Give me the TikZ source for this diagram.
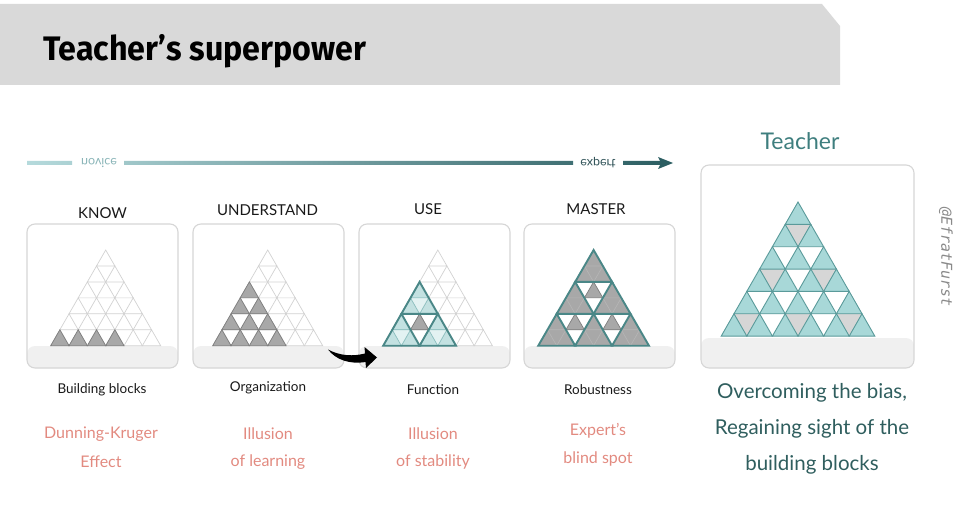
\documentclass[tikz,border=0pt]{standalone}
\usepackage{fontspec}
\setmainfont{Lato}
\newfontfamily\titlefont{Fira Sans}
\newfontfamily\handfont{DejaVu Sans Mono}
\definecolor{hdr}{HTML}{D9D9D9}
\definecolor{cardline}{HTML}{D6D6D6}
\definecolor{band}{HTML}{F0F0F0}
\definecolor{gridc}{HTML}{D2D2D2}
\definecolor{grayfill}{HTML}{A8A8A8}
\definecolor{grayedge}{HTML}{7E7E7E}
\definecolor{tealdark}{HTML}{4A8787}
\definecolor{tealthin}{HTML}{8DBFBF}
\definecolor{tealfill}{HTML}{C3E1E1}
\definecolor{teallight}{HTML}{E3F2F2}
\definecolor{minner}{HTML}{B6B6B6}
\definecolor{tchfill}{HTML}{A8D8D8}
\definecolor{tchedge}{HTML}{5A9A9A}
\definecolor{tchgray}{HTML}{D6D6D6}
\definecolor{salmon}{HTML}{E28A80}
\definecolor{capdark}{HTML}{2F5E5E}
\definecolor{tlabel}{HTML}{3E7E7E}
\definecolor{arrL}{HTML}{B5DADC}
\definecolor{arrR}{HTML}{2C5E62}
\definecolor{nov}{HTML}{8AB5B8}
\definecolor{exp}{HTML}{33555A}
\definecolor{hand}{HTML}{8A8A8A}
\newcommand\uptri[3][]{\path[#1] ({#3-1-(#2-1)/2},{#2-1}) -- ++(0.5,1) -- ++(-1,0) -- cycle;}
\newcommand\dntri[3][]{\path[#1] ({#3-1-(#2-1)/2},{#2-1}) -- ++(1,0) -- ++(-0.5,1) -- cycle;}
\newcommand\blocktri[3][]{\path[#1] ({#3-1-(#2-1)/2},{#2-1}) -- ++(1,2) -- ++(-2,0) -- cycle;}
\newcommand\fullgrid{\foreach \r in {1,...,6}{\foreach \k in {1,...,\r}{\uptri[draw=gridc,line width=0.7pt]{\r}{\k}}}}
\tikzset{
  cardbox/.style={draw=cardline,line width=1.1pt,fill=white,rounded corners=8pt,inner sep=0pt,
    path picture={\fill[band] (path picture bounding box.south west) rectangle ([yshift=#1]path picture bounding box.south east);}},
  stage/.style={font=\fontsize{15}{18}\selectfont,text=black!90},
  sub/.style={font=\fontsize{13.5}{16}\selectfont,text=black!90},
  bias/.style={font=\fontsize{16}{19}\selectfont,text=salmon},
  teachcap/.style={font=\fontsize{20.5}{24}\selectfont,text=capdark},
  gtri/.style={fill=grayfill,draw=grayedge,line width=0.7pt},
  line join=round
}
\begin{document}
\begin{tikzpicture}[x=1pt,y=-1pt]
\useasboundingbox (0,0) rectangle (960,521);
% header
\fill[hdr] (0,4) -- (822,4) -- (840,26) -- (840,85) -- (0,85) -- cycle;
\node[anchor=base west,inner sep=0pt,font=\titlefont\bfseries\fontsize{34}{38}\selectfont] (title) at (43,61) {\scalebox{0.947}[1]{Teacher’s superpower}};
% novice -> expert arrow
\begin{scope}
\clip (27,161) rectangle (72,165) (124,161) rectangle (573,165) (623,161) rectangle (664,165);
\shade[left color=arrL,right color=arrR] (27,161) rectangle (664,165);
\end{scope}
\fill[arrR] (658,157) -- (673,163) -- (658,169) -- (661,163) -- cycle;
\node[text=nov,font=\fontsize{12.5}{14}\selectfont,inner sep=0pt] (novice) at (99,163) {\scalebox{1}[-1]{novice}};
\node[text=exp,font=\fontsize{12.5}{14}\selectfont,inner sep=0pt] (expert) at (598,163) {\scalebox{1}[-1]{expert}};
% cards
\node[cardbox=22pt,minimum width=151pt,minimum height=144pt] (know) at (102.5,296) {};
\node[cardbox=22pt,minimum width=151pt,minimum height=144pt] (understand) at (268.5,296) {};
\node[cardbox=22pt,minimum width=151pt,minimum height=144pt] (use) at (434.5,296) {};
\node[cardbox=22pt,minimum width=151pt,minimum height=144pt] (master) at (599.5,296) {};
\node[cardbox=30pt,minimum width=213pt,minimum height=203pt] (teacher) at (807.5,266.5) {};
% stage labels
\node[stage] (lknow) at (102.5,213) {KNOW};
\node[stage] (lunderstand) at (267.5,210) {UNDERSTAND};
\node[stage] (luse) at (428,209.5) {USE};
\node[stage] (lmaster) at (596,209.5) {MASTER};
\node[font=\fontsize{23}{27}\selectfont,text=tlabel] (lteacher) at (800,141) {Teacher};
\node[font=\handfont\itshape\fontsize{15}{18}\selectfont,text=hand,rotate=-90] (sign) at (946,257) {@EfratFurst};
% KNOW pyramid
\begin{scope}[shift={(105.7,250)}]\begin{scope}[x=18.33pt,y=-15.95pt]
\fullgrid
\foreach \k in {1,...,4}{\uptri[gtri]{6}{\k}}
\end{scope}\end{scope}
% UNDERSTAND pyramid
\begin{scope}[shift={(267.7,250)}]\begin{scope}[x=18.33pt,y=-15.95pt]
\fullgrid
\foreach \r in {3,...,6}{\pgfmathtruncatemacro\m{\r-2}\foreach \k in {1,...,\m}{\uptri[gtri]{\r}{\k}}}
\end{scope}\end{scope}
% USE pyramid
\begin{scope}[shift={(437.8,250)}]\begin{scope}[x=18.2pt,y=-15.95pt]
\fullgrid
\foreach \r/\k in {3/1,5/1,5/3}{
  \pgfmathtruncatemacro\rn{\r+1}\pgfmathtruncatemacro\kn{\k+1}
  \uptri[fill=tealfill,draw=tealthin,line width=0.6pt]{\r}{\k}
  \uptri[fill=tealfill,draw=tealthin,line width=0.6pt]{\rn}{\k}
  \uptri[fill=tealfill,draw=tealthin,line width=0.6pt]{\rn}{\kn}
  \dntri[fill=teallight,draw=tealthin,line width=0.6pt]{\rn}{\k}
}
\uptri[gtri]{5}{2}
\foreach \r/\k in {3/1,5/1,5/3}{\blocktri[draw=tealdark,line width=1.9pt]{\r}{\k}}
\end{scope}\end{scope}
% MASTER pyramid
\begin{scope}[shift={(593.6,250)}]\begin{scope}[x=18.45pt,y=-15.95pt]
\foreach \r/\k in {1/1,3/1,3/3,5/1,5/3,5/5}{
  \pgfmathtruncatemacro\rn{\r+1}
  \blocktri[fill=grayfill]{\r}{\k}
  \dntri[draw=minner,line width=0.6pt]{\rn}{\k}
}
\foreach \r/\k in {3/2,5/2,5/4}{\uptri[gtri]{\r}{\k}}
\foreach \r/\k in {1/1,3/1,3/3,5/1,5/3,5/5}{\blocktri[draw=tealdark,line width=1.9pt]{\r}{\k}}
\end{scope}\end{scope}
% Teacher pyramid
\begin{scope}[shift={(798,202)}]\begin{scope}[x=25.6pt,y=-22.35pt]
\foreach \r/\k in {2/1,4/1,4/3,6/1,6/3,6/5}{\dntri[fill=tchgray]{\r}{\k}}
\foreach \r in {1,...,6}{\foreach \k in {1,...,\r}{\uptri[fill=tchfill,draw=tchedge,line width=0.9pt]{\r}{\k}}}
\end{scope}\end{scope}
% black swoosh arrow between UNDERSTAND and USE
\fill[black] (328,349.5) .. controls (340,356) and (353,356.5) .. (365,353.5)
  -- (364.5,347) -- (377,357.5) -- (366,368) -- (365.5,362)
  .. controls (350,364.5) and (336,360) .. (328,349.5) -- cycle;
% sub labels
\node[sub] (bknow) at (102,390) {Building blocks};
\node[sub] (bund) at (268,388) {Organization};
\node[sub] (buse) at (433,390) {Function};
\node[sub] (bmaster) at (598,390) {Robustness};
% bias labels
\node[bias] (dk1) at (101,434) {Dunning-Kruger};
\node[bias] (dk2) at (101,462) {Effect};
\node[bias] (il1) at (268,434) {Illusion};
\node[bias] (il2) at (268,462) {of learning};
\node[bias] (is1) at (433,434) {Illusion};
\node[bias] (is2) at (433,462) {of stability};
\node[bias] (eb1) at (598,431) {Expert’s};
\node[bias] (eb2) at (598,459) {blind spot};
% teacher caption
\node[teachcap] (c1) at (812,393) {Overcoming the bias,};
\node[teachcap] (c2) at (812,429) {Regaining sight of the};
\node[teachcap] (c3) at (812,465) {building blocks};
\end{tikzpicture}
\end{document}
